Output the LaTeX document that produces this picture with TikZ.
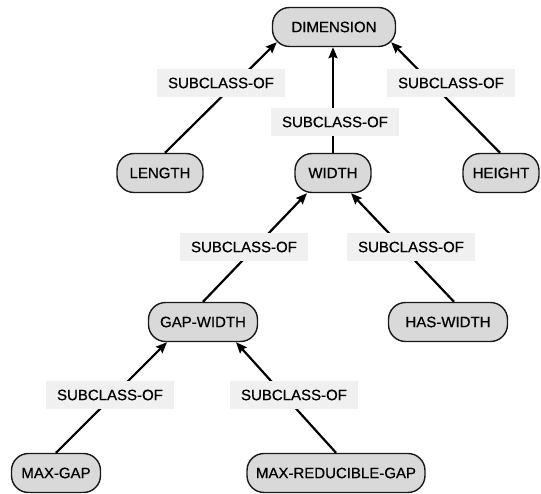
\documentclass[tikz,border=0pt]{standalone}
\usepackage{fontspec}
\setmainfont{Liberation Sans}[FakeBold=0.6]
\usetikzlibrary{arrows.meta,calc}

\tikzset{
  concept/.style={draw=black!90, line width=1.4pt, fill=black!15,
    rounded corners=17pt, minimum height=39pt, inner sep=0pt,
    font=\fontsize{15}{18}\selectfont},
  rel/.style={fill=black!6, draw=none, minimum width=128pt,
    minimum height=28pt, inner sep=0pt, font=\fontsize{15}{18}\selectfont},
  isa/.style={line width=2.2pt,
    -{Stealth[length=11pt,width=9pt,inset=1.5pt]}}
}

\begin{document}
\begin{tikzpicture}[x=1pt,y=-1pt]
\useasboundingbox (0,0) rectangle (541,494);

% concept nodes
\node[concept, minimum width=123pt] (dim) at (334,27)  {DIMENSION};
\node[concept, minimum width=86pt]  (len) at (160,173) {LENGTH};
\node[concept, minimum width=76pt]  (wid) at (333,173) {WIDTH};
\node[concept, minimum width=76pt]  (hei) at (501,173) {HEIGHT};
\node[concept, minimum width=109pt] (gap) at (203,322) {GAP-WIDTH};
\node[concept, minimum width=119pt] (has) at (448,322) {HAS-WIDTH};
\node[concept, minimum width=89pt]  (mg)  at (56,473)  {MAX-GAP};
\node[concept, minimum width=178pt] (mrg) at (336,473) {MAX-REDUCIBLE-GAP};

% subclass links (child -> parent)
\draw[isa] ([xshift=5pt]len.north) -- ($(dim.south west)+(5,-5)$);
\draw[isa] (wid.north) -- (wid.north |- dim.south);
\draw[isa] ([xshift=-1pt]hei.north) -- ($(dim.south east)+(-5,-5)$);
\draw[isa] (gap.north) -- ($(wid.south)+(-26,0)$);
\draw[isa] ([xshift=6pt]has.north) -- ($(wid.south)+(18,0)$);
\draw[isa] (mg.north) -- ($(gap.south)+(-36,0)$);
\draw[isa] (mrg.north) -- ($(gap.south)+(33,0)$);

% link labels
\node[rel] (l1) at (221,83)  {SUBCLASS-OF};
\node[rel] (l2) at (335,122) {SUBCLASS-OF};
\node[rel] (l3) at (451,83)  {SUBCLASS-OF};
\node[rel] (l4) at (244,247) {SUBCLASS-OF};
\node[rel] (l5) at (411,247) {SUBCLASS-OF};
\node[rel] (l6) at (110,395) {SUBCLASS-OF};
\node[rel] (l7) at (294,395) {SUBCLASS-OF};
\end{tikzpicture}
\end{document}
